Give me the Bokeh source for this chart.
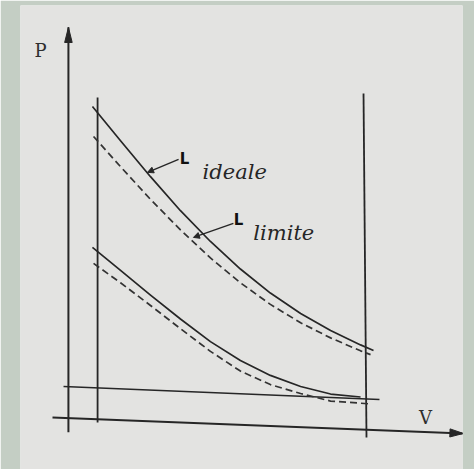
from bokeh.plotting import figure
from bokeh.models import Arrow, NormalHead
from bokeh.core.properties import value
from bokeh.embed import file_html
from bokeh.resources import INLINE

# ---- curves of the P-V sketch (drawing units) ----
# upper pair: ideal (solid) and limit (dashed)
v_up_ideal = [0.85, 1.89, 3.00, 4.11, 5.22, 6.33, 7.44, 8.56, 9.67, 10.78, 11.26]
p_up_ideal = [11.63, 10.36, 9.03, 7.77, 6.63, 5.61, 4.72, 3.96, 3.33, 2.80, 2.59]
v_up_limit = [0.89, 1.89, 3.00, 4.11, 5.22, 6.33, 7.44, 8.56, 9.67, 10.78, 11.15]
p_up_limit = [10.52, 9.40, 8.19, 7.06, 6.02, 5.10, 4.30, 3.62, 3.06, 2.58, 2.44]

# lower pair: ideal (solid) and limit (dashed)
v_low_ideal = [0.85, 1.89, 3.00, 4.11, 5.22, 6.33, 7.44, 8.56, 9.67, 10.78]
p_low_ideal = [6.41, 5.56, 4.64, 3.76, 2.92, 2.22, 1.67, 1.26, 0.98, 0.87]
v_low_limit = [0.89, 1.89, 3.00, 4.11, 5.22, 6.33, 7.44, 8.56, 9.67, 11.07]
p_low_limit = [5.82, 5.10, 4.26, 3.40, 2.56, 1.83, 1.33, 1.00, 0.72, 0.62]

# ---- frame lines ----
p_axis_v = [-0.04, -0.04]
p_axis_p = [-0.44, 14.56]
v_axis_v = [-0.63, 14.59]
v_axis_p = [0.11, -0.48]
left_wall_v = [1.04, 1.04]
left_wall_p = [11.96, -0.07]
right_wall_v = [10.89, 11.00]
right_wall_p = [12.11, -0.63]
floor_v = [-0.22, 11.48]
floor_p = [1.26, 0.78]

# ---- labels ----
axis_label_text = ["P", "V"]
axis_label_v = [-1.07, 13.19]
axis_label_p = [13.70, 0.11]
curve_names = ["ideale", "limite"]
curve_name_v = [4.93, 6.81]
curve_name_p = [9.22, 6.93]
curve_mark_v = [4.26, 6.26]
curve_mark_p = [9.70, 7.41]
leader_start_v = [4.04, 6.07]
leader_start_p = [9.67, 7.30]
leader_end_v = [2.89, 4.59]
leader_end_p = [9.19, 6.78]

INK = "#262626"
PAPER = "#e3e3e1"
MOUNT = "#c4cec4"

p = figure(width=474, height=469, output_backend="svg", toolbar_location=None,
           x_range=(-1.815, 14.556), y_range=(-1.815, 15.37),
           min_border_left=20, min_border_right=12, min_border_top=5,
           min_border_bottom=0)
p.axis.visible = False
p.grid.visible = False
p.outline_line_color = None
p.background_fill_color = PAPER
p.border_fill_color = MOUNT

# axes, walls and floor
p.line(p_axis_v, p_axis_p, line_color=INK, line_width=2)
p.line(v_axis_v, v_axis_p, line_color=INK, line_width=2)
p.line(left_wall_v, left_wall_p, line_color=INK, line_width=1.8)
p.line(right_wall_v, right_wall_p, line_color=INK, line_width=1.8)
p.line(floor_v, floor_p, line_color=INK, line_width=1.6)

# arrow heads of the two axes
def head(v0, p0, v1, p1, length, half):
    dv, dp = v1 - v0, p1 - p0
    n = (dv * dv + dp * dp) ** 0.5
    uv, up = dv / n, dp / n
    bv, bp = v1 - uv * length, p1 - up * length
    return ([bv - up * half, v1, bv + up * half],
            [bp + uv * half, p1, bp - uv * half])

hx, hy = head(p_axis_v[0], p_axis_p[0], p_axis_v[1], p_axis_p[1], 0.56, 0.14)
vx, vy = head(v_axis_v[0], v_axis_p[0], v_axis_v[1], v_axis_p[1], 0.50, 0.15)
p.patches([hx, vx], [hy, vy], fill_color=INK, line_color=INK, line_width=1)

# curves
for vs, ps in [(v_up_ideal, p_up_ideal), (v_low_ideal, p_low_ideal)]:
    p.line(vs, ps, line_color=INK, line_width=1.7, line_join="round")
for vs, ps in [(v_up_limit, p_up_limit), (v_low_limit, p_low_limit)]:
    p.line(vs, ps, line_color="#333333", line_width=1.7, line_dash="7 4",
           line_join="round")

# leaders pointing at the upper pair
for i in range(2):
    p.add_layout(Arrow(x_start=leader_start_v[i], y_start=leader_start_p[i],
                       x_end=leader_end_v[i], y_end=leader_end_p[i],
                       line_color=INK, line_width=1.4,
                       end=NormalHead(size=6, fill_color=INK, line_color=INK,
                                      line_width=1)))

p.text(curve_mark_v, curve_mark_p, text=["L", "L"], text_color="#111111",
       text_font=value("DejaVu Sans"), text_font_style="bold",
       text_font_size="15px", text_align="center", text_baseline="middle")
p.text(curve_name_v, curve_name_p, text=curve_names, text_color=INK,
       text_font=value("DejaVu Serif"), text_font_style="italic",
       text_font_size="21px", text_align="left", text_baseline="alphabetic")
p.text(axis_label_v, axis_label_p, text=axis_label_text, text_color="#2e2e2e",
       text_font=value("DejaVu Serif"), text_font_size="18px",
       text_align="center", text_baseline="middle")

open("out.html", "w").write(file_html(p, INLINE))
